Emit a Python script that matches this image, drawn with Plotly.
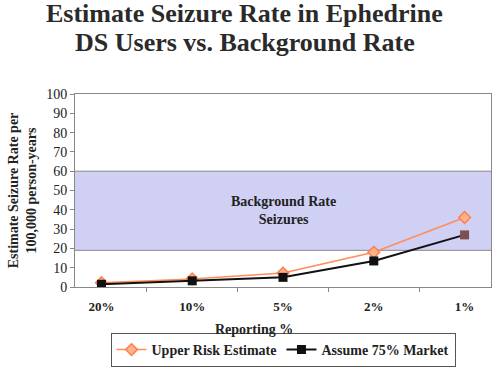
import plotly.graph_objects as go

categories = ["20%", "10%", "5%", "2%", "1%"]
upper_risk = [2.2, 4.2, 7.2, 18, 36]
assume_75 = [1.4, 3.2, 5, 13.5, 27]
band_low, band_high = 19, 60
y_ticks = [0, 10, 20, 30, 40, 50, 60, 70, 80, 90, 100]
title_lines = ["Estimate Seizure Rate in Ephedrine", "DS Users vs. Background Rate"]
x_title = "Reporting %"

font = "Liberation Serif"
W, H = 500, 369
top, bot = 94, 82
ph = H - top - bot
fig = go.Figure()

fig.add_shape(type="rect", xref="paper", yref="y", x0=0, x1=1, y0=band_low, y1=band_high,
              fillcolor="#d0d0f4", line=dict(width=0), layer="below")
for yv in (band_low, band_high):
    fig.add_shape(type="line", xref="paper", yref="y", x0=0, x1=1, y0=yv, y1=yv,
                  line=dict(color="#888888", width=1), layer="below")

fig.add_trace(go.Scatter(x=categories, y=upper_risk, mode="lines+markers",
                         name="<b>Upper Risk Estimate</b>",
                         line=dict(color="#ff8c5a", width=1.5),
                         marker=dict(symbol="diamond", size=9, color="#ffb48c",
                                     line=dict(color="#ff7f50", width=1.5))))
fig.add_trace(go.Scatter(x=categories, y=assume_75, mode="lines+markers",
                         name="<b>Assume 75% Market</b>",
                         line=dict(color="#111111", width=2),
                         marker=dict(symbol="square", size=9,
                                     color=["#111111"] * 4 + ["#7a5050"])))

fig.add_annotation(x=2, y=39.5, xref="x", yref="y",
                   text="<b>Background Rate<br>Seizures</b>", showarrow=False,
                   font=dict(family=font, size=14, color="#222222"))

for line, yc in zip(title_lines, (13, 43)):
    fig.add_annotation(x=0.408, y=1 + (top - yc) / ph, xref="paper", yref="paper",
                       xanchor="center", yanchor="middle", showarrow=False,
                       text="<b>" + line + "</b>",
                       font=dict(family=font, size=26, color="#2a2a2a"))

fig.add_annotation(x=0.43, y=-42 / ph, xref="paper", yref="paper",
                   xanchor="center", yanchor="middle", showarrow=False,
                   text="<b>" + x_title + "</b>",
                   font=dict(family=font, size=14, color="#222222"))

fig.update_layout(
    width=W, height=H,
    margin=dict(l=75, r=9, t=top, b=bot, autoexpand=False),
    paper_bgcolor="white", plot_bgcolor="white",
    font=dict(family=font, color="#222222"),
    showlegend=True,
    legend=dict(orientation="h", x=0.5, xanchor="center",
                y=2 / H, yanchor="bottom", yref="container",
                bordercolor="#555555", borderwidth=1,
                font=dict(family=font, size=14, color="#222222"),
                itemwidth=30, tracegroupgap=0),
)
fig.update_xaxes(
    type="category", showgrid=False, showline=True, mirror=True,
    linecolor="#888888", linewidth=1, ticks="outside", tickson="boundaries",
    ticklen=4, tickcolor="#888888", ticklabelstandoff=7,
    tickfont=dict(family=font, size=13, color="#222222"),
    tickprefix="<b>", ticksuffix="</b>",
)
fig.update_yaxes(
    range=[0, 100], tickvals=y_ticks, showgrid=False, showline=True, mirror=True,
    linecolor="#888888", linewidth=1, ticks="outside", ticklen=4, tickcolor="#888888",
    tickfont=dict(family=font, size=14, color="#222222"),
    tickprefix="<b>", ticksuffix="</b>", zeroline=True, zerolinecolor="#a05050",
    title=dict(text="<b>Estimate Seizure Rate per<br>100,000 person-years</b>",
               font=dict(family=font, size=14), standoff=6),
)
fig.write_html("out.html", config={"displayModeBar": False},
               post_script="document.body.style.margin='0';")
